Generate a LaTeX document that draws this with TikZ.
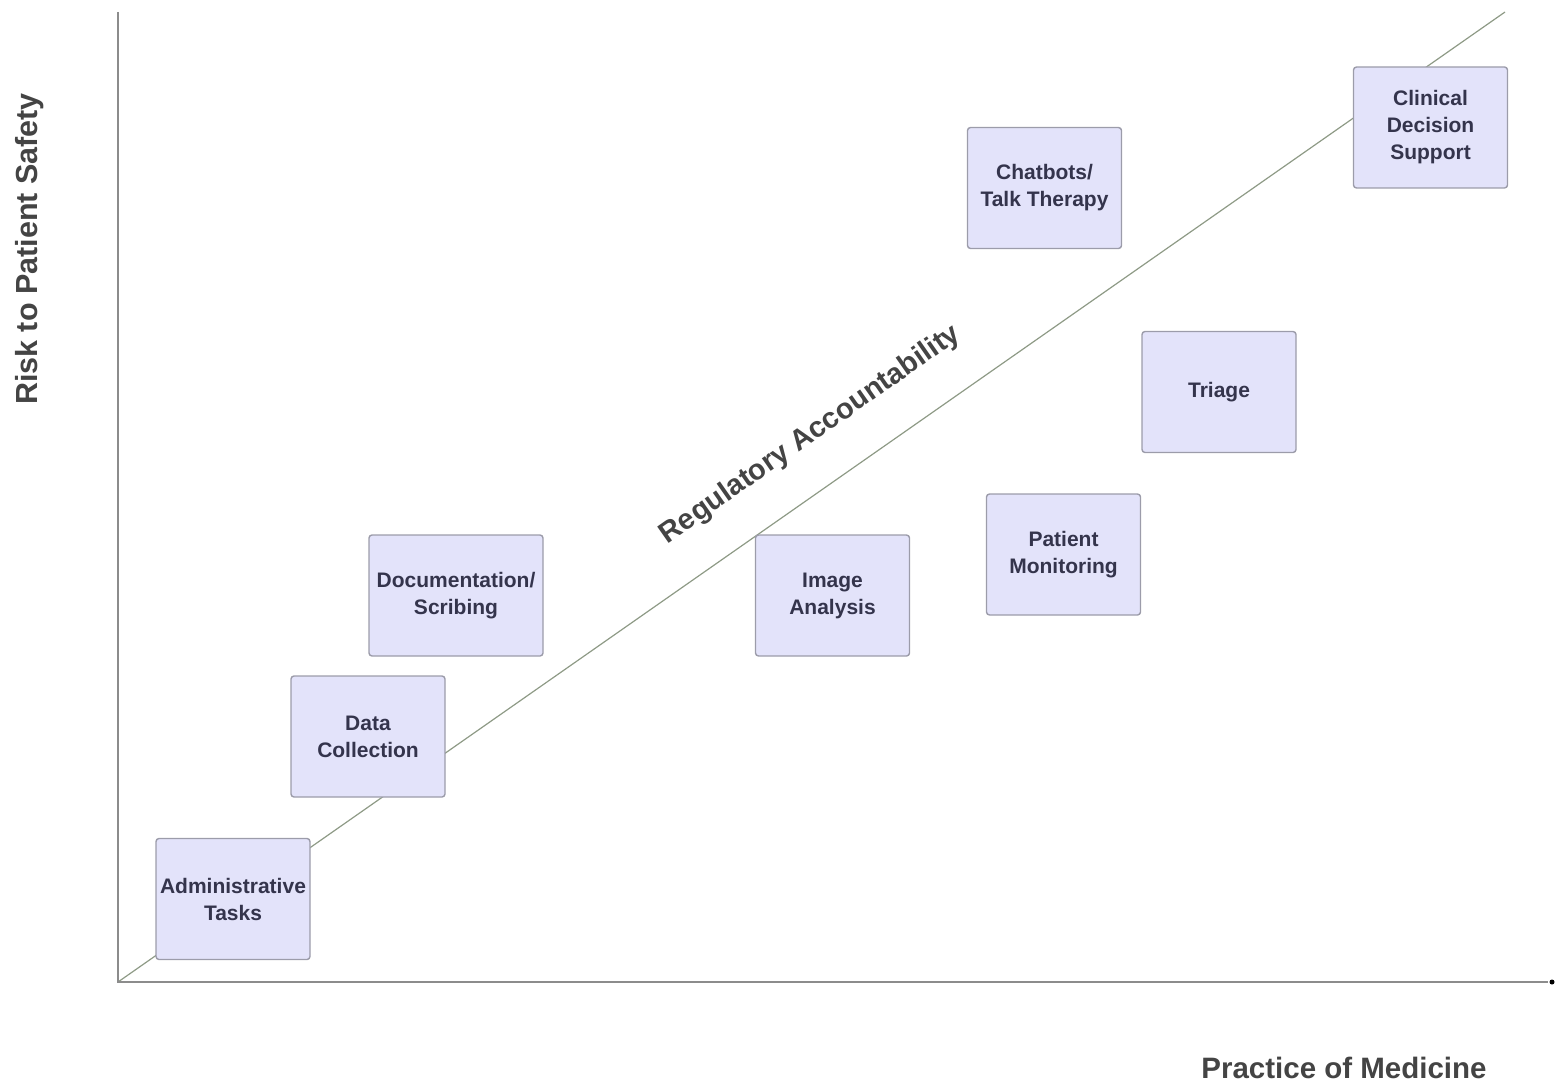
\documentclass[tikz,border=0pt]{standalone}
\usepackage{fontspec}
\setmainfont{Liberation Sans}
\usetikzlibrary{arrows.meta}
\definecolor{boxfill}{HTML}{E3E3FA}
\definecolor{boxdraw}{HTML}{9C9CAA}
\definecolor{boxtext}{HTML}{34344C}
\definecolor{labeltext}{HTML}{444444}
\definecolor{axisgray}{HTML}{8C8C8C}
\definecolor{diaggray}{HTML}{8E9A86}
\begin{document}
\begin{tikzpicture}[x=1pt,y=-1pt,
  item/.style={draw=boxdraw, line width=1.4pt, fill=boxfill, rounded corners=3pt,
    minimum width=154pt, minimum height=121pt, align=center, inner sep=0pt,
    font=\fontsize{21}{27}\selectfont\bfseries, text=boxtext},
  axisline/.style={draw=axisgray, line width=1.6pt},
  diagline/.style={draw=diaggray, line width=1.2pt},
  axislabel/.style={font=\fontsize{29.5}{32}\selectfont\bfseries, text=labeltext, inner sep=0pt}
]
\useasboundingbox (0,0) rectangle (1555,1086);
\coordinate (O) at (118,982);
\coordinate (ytop) at (118,12);
\coordinate (xend) at (1548,982);
\coordinate (diagend) at (1505,12);
\draw[diagline] (O) -- (diagend);
\draw[axisline] (ytop) -- (O) -- (xend);
\fill[black] (1552,982) circle (2.5pt);

\node[item] (admin) at (233,899) {Administrative\\Tasks};
\node[item] (data) at (368,736.5) {Data\\Collection};
\node[item, minimum width=174pt] (doc) at (456,595.5) {Documentation/\\Scribing};
\node[item] (image) at (832.5,595.5) {Image\\Analysis};
\node[item] (monitor) at (1063.5,554.5) {Patient\\Monitoring};
\node[item] (triage) at (1219,392) {Triage};
\node[item] (chat) at (1044.5,188) {Chatbots/\\Talk Therapy};
\node[item] (clinical) at (1430.5,127.5) {Clinical\\Decision\\Support};

\node[axislabel, font=\fontsize{29}{31}\selectfont\bfseries, rotate=35, anchor=base] (reg) at (815,441) {Regulatory Accountability};
\node[axislabel, font=\fontsize{30.5}{32}\selectfont\bfseries, rotate=90] (ylab) at (30,249) {Risk to Patient Safety};
\node[axislabel] (xlab) at (1344,1068) {Practice of Medicine};
\end{tikzpicture}
\end{document}
